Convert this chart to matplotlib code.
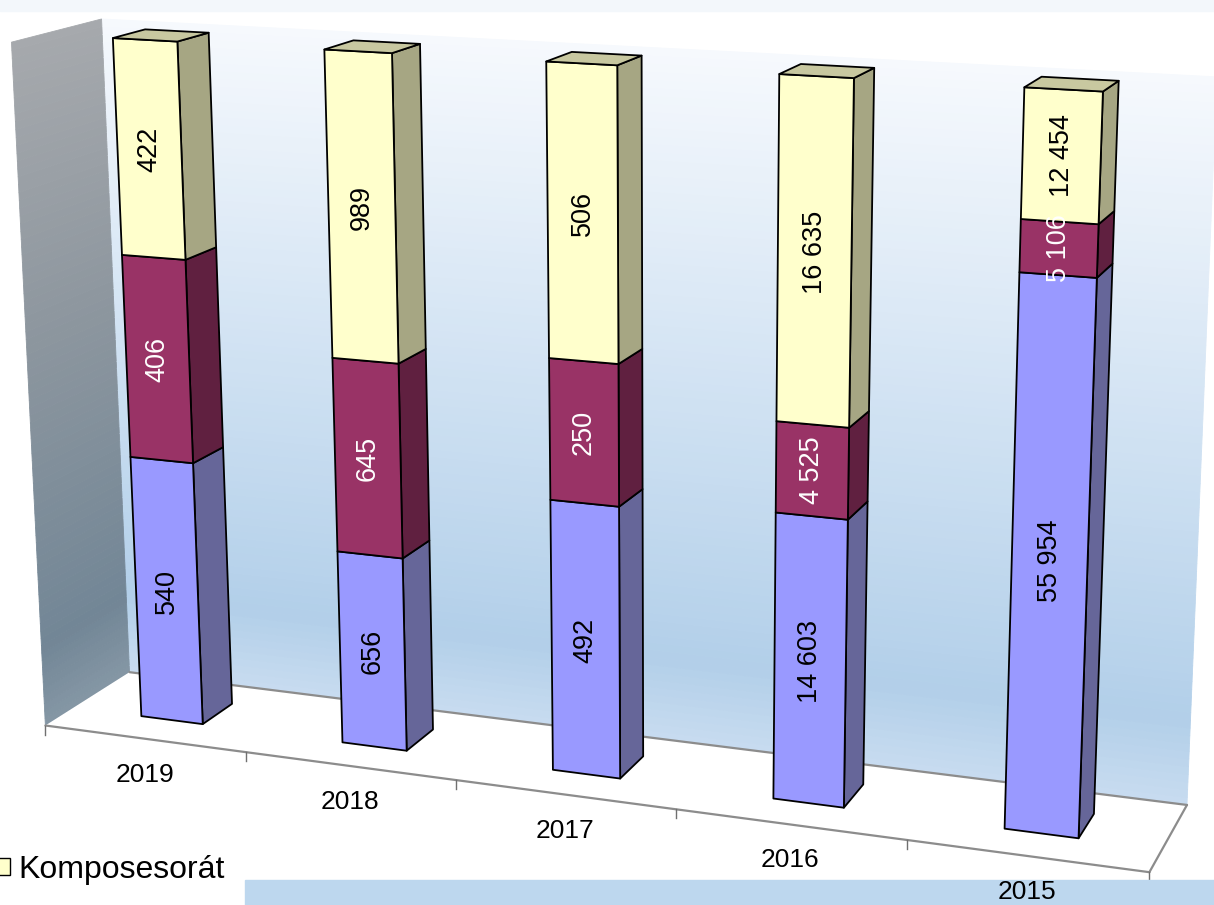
import numpy as np
import matplotlib.pyplot as plt
from matplotlib.patches import Polygon, Rectangle, Patch
from matplotlib.colors import to_rgb

plt.rcParams["font.family"] = ["Liberation Sans", "DejaVu Sans"]

# data (100% stacked, bottom -> top)
years = ["2019", "2018", "2017", "2016", "2015"]
series_blue = [540, 656, 492, 14603, 55954]
series_red = [406, 645, 250, 4525, 5106]
series_yellow = [422, 989, 506, 16635, 12454]
legend_label = "Komposesorát"

# face colours: front, side, top
blue = ("#9999FF", "#666699", "#8080D0")
red = ("#993366", "#602040", "#7A2A52")
yellow = ("#FFFFCC", "#A6A683", "#C8C8A0")
series = [(series_blue, blue, "black"), (series_red, red, "white"),
          (series_yellow, yellow, "black")]

# ---- perspective camera fitted to the box corners (x: category, y: depth, z: share)
box_world = [(0, 0, 0), (0, 1, 0), (5, 0, 0), (5, 1, 0), (0, 1, 1), (0, 0, 1),
             (5, 1, 1), (1, 0, 0), (2, 0, 0), (4, 0, 0)]
box_pixel = [(45, 725), (130, 672), (1150, 871), (1187, 805), (101, 19), (12, 42),
             (1217, 77), (246, 753), (456, 780), (906, 841)]


def fit_camera(world, pixel):
    rows = []
    for (X, Y, Z), (u, v) in zip(world, pixel):
        p = np.array([X, Y, Z, 1.0])
        u, v = u / 1000, v / 1000
        rows.append(np.r_[p, np.zeros(4), -u * p])
        rows.append(np.r_[np.zeros(4), p, -v * p])
    _, _, vt = np.linalg.svd(np.array(rows))
    return vt[-1].reshape(3, 4)


P = fit_camera(box_world, box_pixel)


def proj(pts):
    pts = np.atleast_2d(np.asarray(pts, dtype=float))
    h = np.c_[pts, np.ones(len(pts))] @ P.T
    return 1000 * h[:, :2] / h[:, 2:3]


def interp_color(stops, z):
    zs = [s[0] for s in stops]
    cols = np.array([to_rgb(s[1]) for s in stops])
    return tuple(np.interp(z, zs, cols[:, k]) for k in range(3))


fig = plt.figure(figsize=(12.14, 9.05), dpi=100)
ax = fig.add_axes([0, 0, 1, 1])
ax.set_xlim(0, 1214)
ax.set_ylim(905, 0)
ax.axis("off")

ax.add_patch(Rectangle((0, 0), 1214, 11, color="#F3F7FB", zorder=0))

# walls with vertical gradients
back_stops = [(0, "#C8DCF0"), (0.12, "#B2CFE9"), (0.5, "#CFE1F2"), (1, "#F6F9FD")]
left_stops = [(0, "#8597A5"), (0.12, "#728696"), (0.6, "#8E979F"), (1, "#A6A9AD")]
n = 90
for k in range(n):
    z0, z1 = k / n, (k + 1) / n
    c = interp_color(back_stops, (z0 + z1) / 2)
    quad = proj([(0, 1, z0), (5, 1, z0), (5, 1, z1), (0, 1, z1)])
    ax.add_patch(Polygon(quad, facecolor=c, edgecolor=c, lw=0.6, zorder=1))
    c = interp_color(left_stops, (z0 + z1) / 2)
    quad = proj([(0, 0, z0), (0, 1, z0), (0, 1, z1), (0, 0, z1)])
    ax.add_patch(Polygon(quad, facecolor=c, edgecolor=c, lw=0.6, zorder=1))

# floor
ax.add_patch(Polygon(proj([(0, 0, 0), (5, 0, 0), (5, 1, 0), (0, 1, 0)]),
                     facecolor="white", edgecolor="none", zorder=2))
for a, b in [((0, 0, 0), (5, 0, 0)), ((5, 0, 0), (5, 1, 0)), ((0, 1, 0), (5, 1, 0))]:
    seg = proj([a, b])
    ax.plot(seg[:, 0], seg[:, 1], color="#8C8C8C", lw=1.6, zorder=3,
            solid_capstyle="round")

# ticks and category labels
for i in range(len(years) + 1):
    u, v = proj((i, 0, 0))[0]
    ax.plot([u, u], [v, v + 9], color="#707070", lw=1, zorder=3)
for i, yr in enumerate(years):
    u, v = proj((i + 0.5, 0, 0))[0]
    ax.text(u, v + 36, yr, fontsize=19, ha="center", va="center", zorder=10)

# bottom band
ax.add_patch(Rectangle((245, 880), 969, 25, color="#BDD7EE", zorder=5))

# bars
bar_w = 0.31
y_front, y_back = 0.33, 0.70
totals = np.array(series_blue) + np.array(series_red) + np.array(series_yellow)
for i in range(len(years)):
    x0, x1 = i + 0.5 - bar_w / 2, i + 0.5 + bar_w / 2
    base = 0.0
    for j, (vals, cols, tcol) in enumerate(series):
        h = vals[i] / totals[i]
        z0, z1 = base, base + h
        front = proj([(x0, y_front, z0), (x1, y_front, z0), (x1, y_front, z1), (x0, y_front, z1)])
        side = proj([(x1, y_front, z0), (x1, y_back, z0), (x1, y_back, z1), (x1, y_front, z1)])
        ax.add_patch(Polygon(side, facecolor=cols[1], edgecolor="black", lw=1.3,
                             joinstyle="round", zorder=4))
        ax.add_patch(Polygon(front, facecolor=cols[0], edgecolor="black", lw=1.3,
                             joinstyle="round", zorder=4))
        if j == len(series) - 1:
            top = proj([(x0, y_front, z1), (x1, y_front, z1), (x1, y_back, z1), (x0, y_back, z1)])
            ax.add_patch(Polygon(top, facecolor=cols[2], edgecolor="black", lw=1.3,
                                 joinstyle="round", zorder=4))
        u, v = proj((i + 0.5, y_front, (z0 + z1) / 2))[0]
        ax.text(u, v, f"{vals[i]:,}".replace(",", " "), rotation=90, fontsize=19.5,
                color=tcol, ha="center", va="center", rotation_mode="anchor", zorder=10)
        base = z1

# legend
ax.legend(handles=[Patch(facecolor=yellow[0], edgecolor="black", lw=1)],
          labels=[legend_label], loc="center left",
          bbox_to_anchor=(-4 / 1214, 1 - 870 / 905), fontsize=23, frameon=False,
          handlelength=0.45, handleheight=0.45, handletextpad=0.25,
          borderpad=0, borderaxespad=0)

fig.savefig("out.png", dpi=100)
